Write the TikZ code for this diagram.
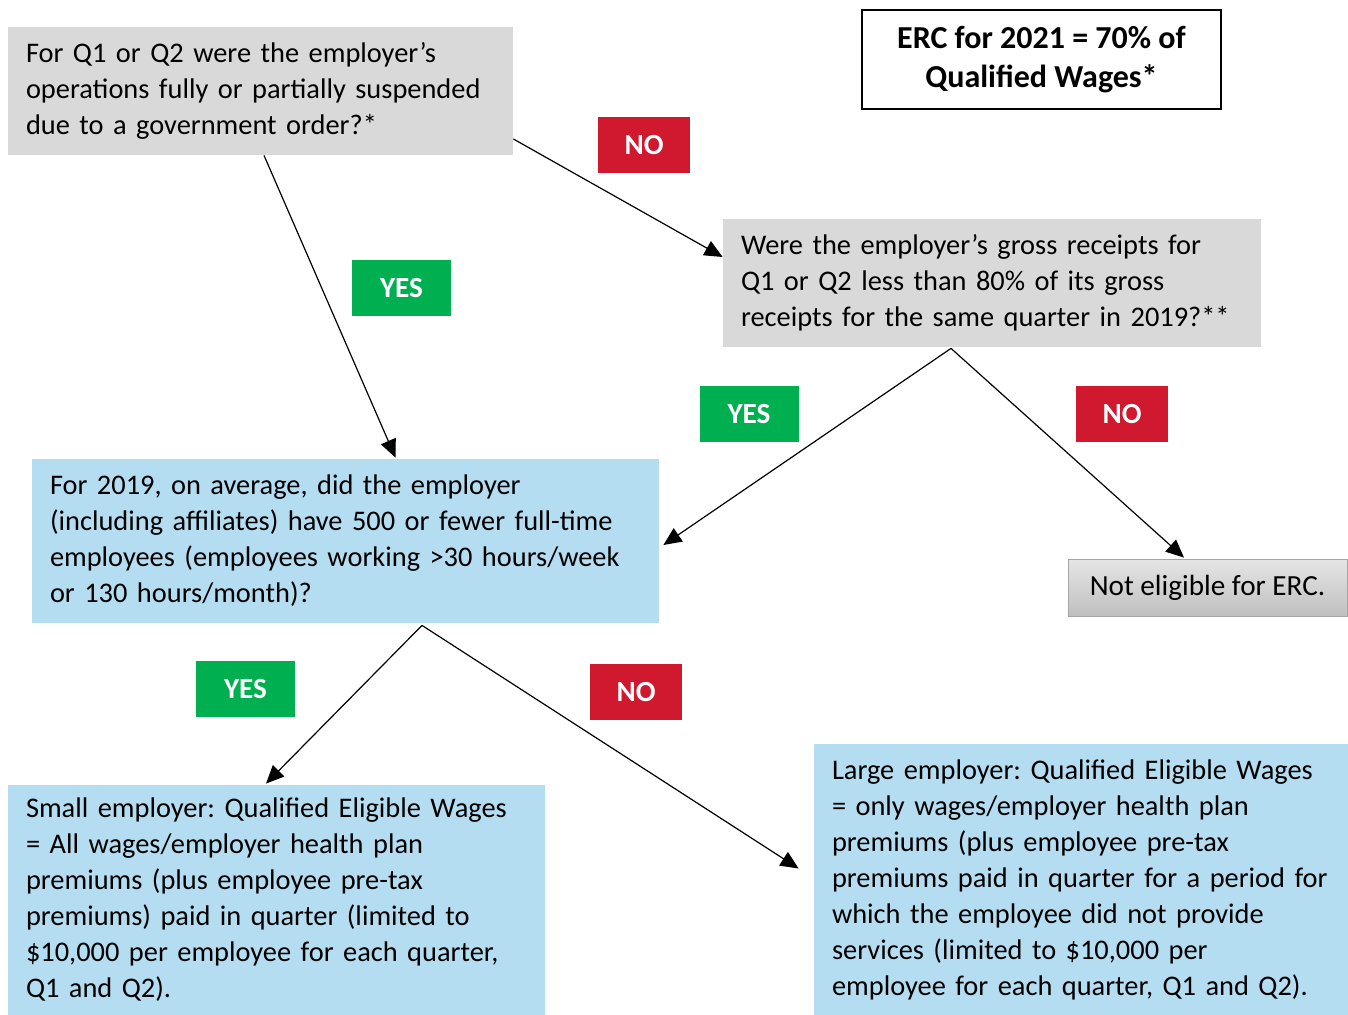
\documentclass[tikz,border=0pt]{standalone}
\usepackage{fontspec}
\setmainfont{Carlito}
\usepackage{xcolor}
\usepackage{tikz}
\usetikzlibrary{arrows.meta, positioning, calc}
\frenchspacing
\definecolor{askgray}{HTML}{D9D9D9}
\definecolor{askblue}{HTML}{B4DDF1}
\definecolor{nored}{HTML}{D0192F}
\definecolor{yesgreen}{HTML}{00B050}
\tikzstyle{question} = [rectangle, inner xsep=9pt, inner ysep=0pt, align=left, font=\fontsize{14.2}{18}\selectfont]
\tikzstyle{answer}   = [question, fill=askblue]
\tikzstyle{yeslabel} = [rectangle, inner sep=0pt, minimum width=49.5pt, minimum height=28pt, fill=yesgreen, text=white, font=\fontsize{14.6}{17}\selectfont\bfseries]
\tikzstyle{nolabel}  = [yeslabel, minimum width=46pt, fill=nored]
\tikzstyle{arrow}    = [line width=0.6pt, -{Triangle[length=9pt,width=8pt]}]

\begin{document}
\begin{tikzpicture}[x=0.5pt, y=-0.5pt]
    \useasboundingbox (0,0) rectangle (1348,1015);
    \node (q1)   at ( 260.5,  91)   [question, fill=askgray, text width=234.5pt, minimum height=64pt]
        {For Q1 or Q2 were the employer’s\\operations fully or partially suspended\\due to a government order?*};
    \node (erc)  at (1041.5,  59.5) [draw=black, line width=1pt, minimum width=179.5pt, minimum height=49.5pt, align=center, font=\fontsize{16}{19.5}\selectfont\bfseries]
        {ERC for 2021 = 70\% of\\Qualified Wages*};
    \node (gr)   at ( 992,   283)   [question, fill=askgray, text width=251pt, minimum height=64pt]
        {Were the employer’s gross receipts for\\Q1 or Q2 less than 80\% of its gross\\receipts for the same quarter in 2019?**};
    \node (size) at ( 345.5, 541)   [answer, text width=295.5pt, minimum height=82pt]
        {For 2019, on average, did the employer\\(including affiliates) have 500 or fewer full-time\\employees (employees working >30 hours/week\\or 130 hours/month)?};
    \node (nelig) at (1207.5, 587.5) [rectangle, draw=black!35, top color=black!10, bottom color=black!25, minimum width=139.5pt, minimum height=28.5pt, font=\fontsize{14.6}{18}\selectfont]
        {Not eligible for ERC.};
    \node (small) at ( 276.5, 900)  [answer, text width=250.5pt, minimum height=115pt]
        {Small employer: Qualified Eligible Wages\\= All wages/employer health plan\\premiums (plus employee pre-tax\\premiums) paid in quarter (limited to\\\$10,000 per employee for each quarter,\\Q1 and Q2).};
    \node (large) at (1081,  879.5) [answer, text width=249pt, minimum height=135.5pt]
        {Large employer: Qualified Eligible Wages\\= only wages/employer health plan\\premiums (plus employee pre-tax\\premiums paid in quarter for a period for\\which the employee did not provide\\services (limited to \$10,000 per\\employee for each quarter, Q1 and Q2).};

    \node (no1)  at ( 644,   145)   [nolabel]  {NO};
    \node (yes1) at ( 401.5, 288)   [yeslabel] {YES};
    \node (yes2) at ( 749,   414)   [yeslabel] {YES};
    \node (no2)  at (1122,   414)   [nolabel]  {NO};
    \node (yes3) at ( 245.5, 689)   [yeslabel] {YES};
    \node (no3)  at ( 636,   692)   [nolabel]  {NO};

    \draw [arrow] ($(q1.south)+(3.5,0)$)   -- ($(size.north)+(50,-1)$);
    \draw [arrow] ($(q1.east)+(0,48)$)     -- ($(gr.west)+(0,-26)$);
    \draw [arrow] ($(gr.south)+(-41,1)$)   -- ($(size.east)+(4,4)$);
    \draw [arrow] ($(gr.south)+(-41,1)$)   -- ($(nelig.north)+(-23.5,-1)$);
    \draw [arrow] ($(size.south)+(76.5,2)$) -- ($(small.north)+(-10.5,-1)$);
    \draw [arrow] ($(size.south)+(76.5,2)$) -- ($(large.west)+(-15,-11)$);
\end{tikzpicture}
\end{document}
